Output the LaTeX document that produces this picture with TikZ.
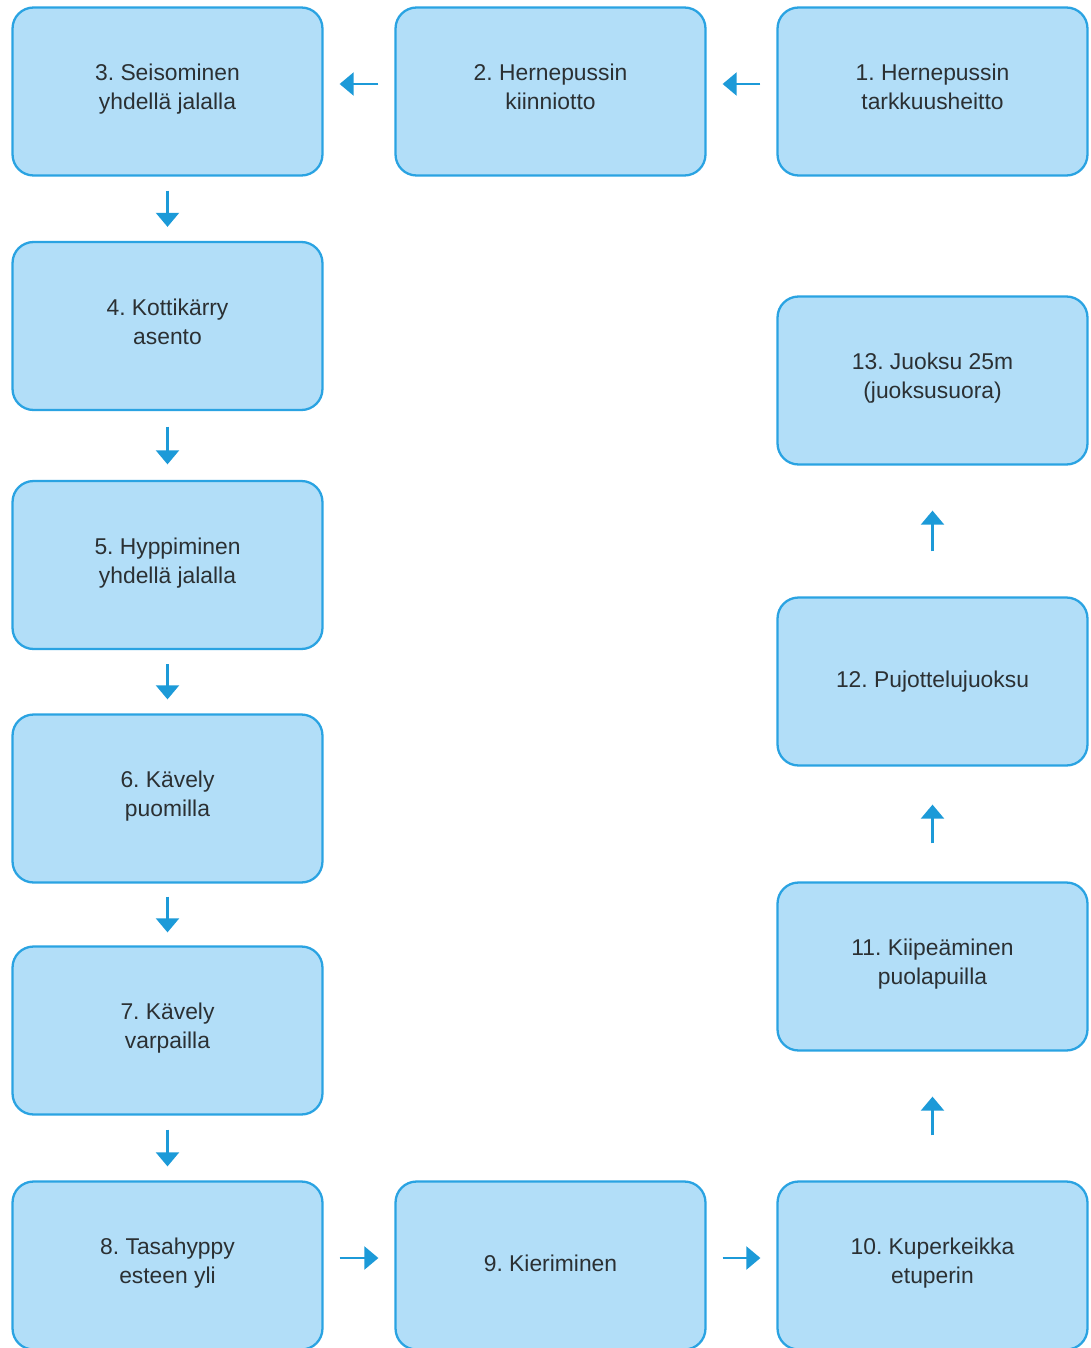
\documentclass[tikz,border=0pt]{standalone}
\usepackage{fontspec}
\setmainfont{Liberation Sans}
\usetikzlibrary{arrows.meta}
\definecolor{boxfill}{HTML}{B2DEF8}
\definecolor{boxline}{HTML}{2AA3E2}
\definecolor{arrowblue}{HTML}{1C9AD8}
\definecolor{textgray}{HTML}{2B3033}
\tikzset{
    stage/.style={draw=boxline,fill=boxfill,line width=1.3pt,rounded corners=0.42cm,
        minimum width=6.2cm,minimum height=3.36cm,align=center,text=textgray,
        font=\fontsize{13}{16.6}\selectfont\frenchspacing,
        execute at end node=\strut},
    flow/.style={draw=arrowblue,line width=1.6pt,-{Triangle[width=13pt,length=8pt]},
        shorten <=#1,shorten >=#1},
    flow/.default=0.28cm
}
\begin{document}
\begin{tikzpicture}[x=0.02cm,y=-0.02cm]
        \clip (0,0) rectangle (1091,1348);
        \fill[white] (0,0) rectangle (1091,1348);

        \node[stage] (s1) at (932.5,91.5) {1. Hernepussin\\tarkkuusheitto};
        \node[stage] (s2) at (550.5,91.5) {2. Hernepussin\\kiinniotto};
        \node[stage] (s3) at (167.5,91.5) {3. Seisominen\\yhdellä jalalla};
        \node[stage] (s4) at (167.5,326) {4. Kottikärry\\asento};
        \node[stage] (s5) at (167.5,565) {5. Hyppiminen\\yhdellä jalalla};
        \node[stage] (s6) at (167.5,798.5) {6. Kävely\\puomilla};
        \node[stage] (s7) at (167.5,1030.5) {7. Kävely\\varpailla};
        \node[stage] (s8) at (167.5,1265.5) {8. Tasahyppy\\esteen yli};
        \node[stage] (s9) at (550.5,1265.5) {9. Kieriminen};
        \node[stage] (s10) at (932.5,1265.5) {10. Kuperkeikka\\etuperin};
        \node[stage] (s11) at (932.5,966.5) {11. Kiipeäminen\\puolapuilla};
        \node[stage] (s12) at (932.5,681.5) {12. Pujottelujuoksu};
        \node[stage] (s13) at (932.5,380.5) {13. Juoksu 25m\\(juoksusuora)};

        \draw[flow=0.32cm] ([yshift=0.15cm]s1.west) -- ([yshift=0.15cm]s2.east);
        \draw[flow=0.32cm] ([yshift=0.15cm]s2.west) -- ([yshift=0.15cm]s3.east);
        \draw[flow] (s3) -- (s4);
        \draw[flow=0.31cm] (s4) -- (s5);
        \draw[flow] (s5) -- (s6);
        \draw[flow=0.26cm] (s6) -- (s7);
        \draw[flow] (s7) -- (s8);
        \draw[flow=0.32cm] ([yshift=0.15cm]s8.east) -- ([yshift=0.15cm]s9.west);
        \draw[flow=0.32cm] ([yshift=0.15cm]s9.east) -- ([yshift=0.15cm]s10.west);
        \draw[flow=0.9cm] (s10) -- (s11);
        \draw[flow=0.76cm] (s11) -- (s12);
        \draw[flow=0.9cm] (s12) -- (s13);
    \end{tikzpicture}
\end{document}
